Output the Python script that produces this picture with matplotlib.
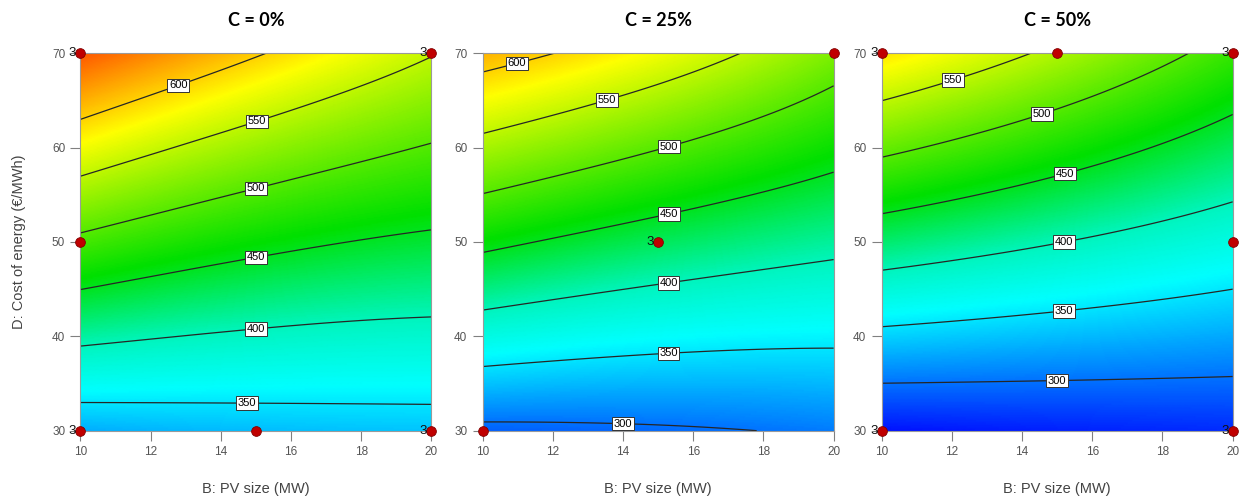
import numpy as np
import matplotlib
matplotlib.use("Agg")
import matplotlib.pyplot as plt
from matplotlib.colors import LinearSegmentedColormap, Normalize
from numpy.polynomial import polynomial as P

plt.rcParams["font.family"] = ["Liberation Sans", "DejaVu Sans"]

# factor levels of the design (face-centred)
pv_levels = [10, 15, 20]
cost_levels = [30, 50, 70]

# response at the design grid, rows = cost (30, 50, 70), cols = PV size (10, 15, 20)
resp_c0 = [[325, 332, 335],
           [492, 461, 443],
           [658, 603, 552]]
resp_c25 = [[292, 296, 304],
            [459, 431, 410],
            [615, 574, 519]]
resp_c50 = [[258, 264, 269],
            [425, 401, 377],
            [592, 542, 485]]

titles = ["C = 0%", "C = 25%", "C = 50%"]
levels_c0 = [350, 400, 450, 500, 550, 600]
levels_c25 = [300, 350, 400, 450, 500, 550, 600]
levels_c50 = [300, 350, 400, 450, 500, 550]

# where the contour labels sit (B, D)
lab_c0 = [(14.75, 33.0), (15.0, 40.9), (15.0, 48.4), (15.0, 55.7), (15.0, 63.1), (12.75, 67.0)]
lab_c25 = [(14.0, 30.8), (15.3, 38.0), (15.3, 45.5), (15.3, 53.0), (15.3, 60.3), (13.5, 65.5), (11.0, 68.5)]
lab_c50 = [(15.0, 35.4), (15.2, 42.8), (15.2, 50.0), (15.2, 57.5), (14.5, 64.3), (12.0, 67.5)]

# design points shown on each slice, with replicate counts
pts_c0 = {"B": [10, 20, 10, 10, 15, 20], "D": [70, 70, 50, 30, 30, 30], "n": [3, 3, 1, 3, 1, 3]}
pts_c25 = {"B": [20, 15, 10], "D": [70, 50, 30], "n": [1, 3, 1]}
pts_c50 = {"B": [10, 15, 20, 20, 10, 20], "D": [70, 70, 70, 50, 30, 30], "n": [3, 1, 3, 1, 3, 3]}

panels = [
    (resp_c0, levels_c0, lab_c0, pts_c0),
    (resp_c25, levels_c25, lab_c25, pts_c25),
    (resp_c50, levels_c50, lab_c50, pts_c50),
]

cmap = LinearSegmentedColormap.from_list(
    "de", [(0.0, "#0000ff"), (0.245, "#00ffff"), (0.33, "#00f5c0"), (0.467, "#00e000"),
           (0.733, "#ffff00"), (1.0, "#ff0000")])
norm = Normalize(vmin=250, vmax=700)

fig = plt.figure(figsize=(12.42, 4.99), dpi=100)
lefts = [0.0648, 0.3886, 0.7099]
width = 0.2826
bottom, height = 0.1369, 0.7563

bg, dg = np.meshgrid(pv_levels, cost_levels)
bb, dd = np.meshgrid(np.linspace(10, 20, 300), np.linspace(30, 70, 300))

for k, (resp, levels, labpos, pts) in enumerate(panels):
    ax = fig.add_axes([lefts[k], bottom, width, height])
    z = np.array(resp, dtype=float)
    # biquadratic surface through the 3x3 design grid
    V = P.polyvander2d(bg.ravel(), dg.ravel(), [2, 2])
    coef = np.linalg.lstsq(V, z.ravel(), rcond=None)[0].reshape(3, 3)
    zz = P.polyval2d(bb, dd, coef)

    ax.pcolormesh(bb, dd, zz, cmap=cmap, norm=norm, shading="gouraud", rasterized=True)
    cs = ax.contour(bb, dd, zz, levels=levels, colors="#262626", linewidths=0.9)
    texts = ax.clabel(cs, levels, inline=False, fmt="%d", fontsize=8, manual=labpos)
    for t in texts:
        t.set_rotation(0)
        t.set_color("black")
        t.set_bbox(dict(boxstyle="square,pad=0.15", fc="white", ec="#333333", lw=0.7))

    ax.plot(pts["B"], pts["D"], "o", ms=7, color="#c00000", mec="#800000", mew=0.6,
            clip_on=False, zorder=5)
    for b, d, n in zip(pts["B"], pts["D"], pts["n"]):
        if n > 1:
            ax.annotate(str(n), (b, d), xytext=(-3, 0), textcoords="offset points",
                        ha="right", va="center", fontsize=9.5, color="#111111",
                        annotation_clip=False, zorder=6)

    ax.set_xlim(10, 20)
    ax.set_ylim(30, 70)
    ax.set_xticks([10, 12, 14, 16, 18, 20])
    ax.set_yticks([30, 40, 50, 60, 70])
    ax.tick_params(direction="out", length=7, width=0.8, color="#808080",
                   labelsize=8.5, labelcolor="#555555", pad=4)
    for s in ax.spines.values():
        s.set_color("#9a9a9a")
        s.set_linewidth(0.8)

    ax.set_xlabel("B: PV size (MW)", fontsize=10.5, color="#444444", labelpad=17)
    if k == 0:
        ax.set_ylabel("D: Cost of energy (€/MWh)", fontsize=10.5, color="#444444", labelpad=19)
    ax.text(0.5, 1.087, titles[k], transform=ax.transAxes, ha="center", va="center",
            fontsize=13, fontweight="bold", family="Lato")

fig.savefig("out.png", dpi=100)
